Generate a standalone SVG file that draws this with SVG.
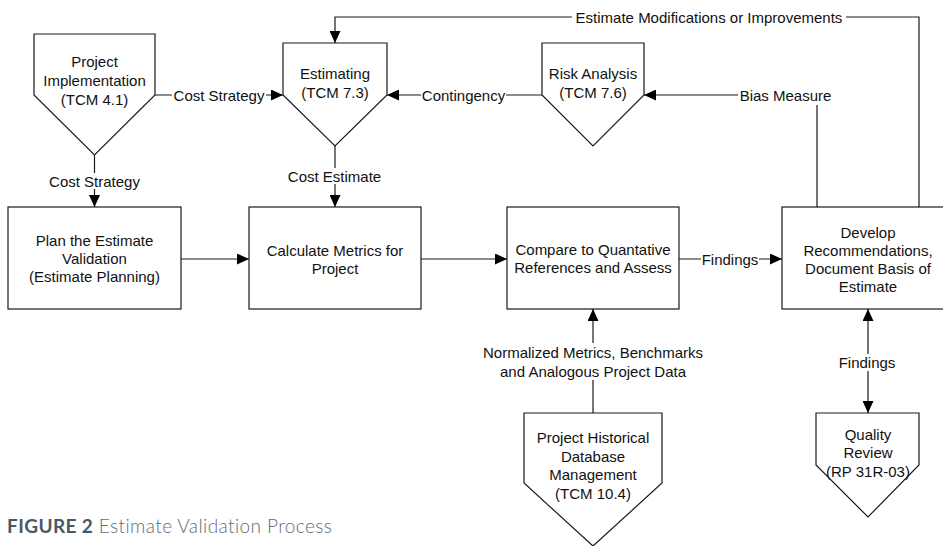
<svg xmlns="http://www.w3.org/2000/svg" width="943" height="546" viewBox="0 0 943 546">
<style>
.n{fill:#fff;stroke:#1a1a1a;stroke-width:1.2}
.t{font-family:"Liberation Sans",Arial,sans-serif;font-size:15px;fill:#111;text-anchor:middle}
.c{fill:none;stroke:#1a1a1a;stroke-width:1.2}
.bg{fill:#fff;stroke:none}
.cap{font-family:Lato,"Open Sans",sans-serif;font-size:19px;letter-spacing:0.4px}
</style>
<defs>
<marker id="arr" viewBox="0 0 12 11" refX="12" refY="5.5" markerWidth="12" markerHeight="11" markerUnits="userSpaceOnUse" orient="auto-start-reverse">
<path d="M0,0 L12,5.5 L0,11 z" fill="#000"/>
</marker>
</defs>
<rect width="943" height="546" fill="#fff"/>

<g id="connectors">
<path class="c" d="M94.5,155 V207" marker-end="url(#arr)"/>
<path class="c" d="M155,95 H283" marker-end="url(#arr)"/>
<path class="c" d="M919,207 V17 H335 V43" marker-end="url(#arr)"/>
<path class="c" d="M542,95 H387" marker-end="url(#arr)"/>
<path class="c" d="M817,207 V95 H644" marker-end="url(#arr)"/>
<path class="c" d="M335,146 V207" marker-end="url(#arr)"/>
<path class="c" d="M181,259 H249" marker-end="url(#arr)"/>
<path class="c" d="M421,259 H507" marker-end="url(#arr)"/>
<path class="c" d="M679,259 H782" marker-end="url(#arr)"/>
<path class="c" d="M593,413 V309" marker-end="url(#arr)"/>
<path class="c" d="M868,309 V413" marker-start="url(#arr)" marker-end="url(#arr)"/>

<rect class="bg" x="47" y="173" width="95" height="16"/>
<text class="t" x="94.5" y="186.5">Cost Strategy</text>
<rect class="bg" x="172" y="87" width="94" height="16"/>
<text class="t" x="219" y="100.5">Cost Strategy</text>
<rect class="bg" x="572" y="9" width="274" height="16"/>
<text class="t" x="709" y="22.5">Estimate Modifications or Improvements</text>
<rect class="bg" x="421" y="87" width="85" height="16"/>
<text class="t" x="463.5" y="100.5">Contingency</text>
<rect class="bg" x="738" y="87" width="95" height="18"/>
<text class="t" x="785.5" y="100.5">Bias Measure</text>
<rect class="bg" x="286" y="168" width="97" height="16"/>
<text class="t" x="334.5" y="181.5">Cost Estimate</text>
<rect class="bg" x="701" y="251" width="58" height="16"/>
<text class="t" x="730" y="264.5">Findings</text>
<rect class="bg" x="478" y="343" width="230" height="37"/>
<text class="t" x="593" y="357.5">Normalized Metrics, Benchmarks</text>
<text class="t" x="593" y="376.5">and Analogous Project Data</text>
<rect class="bg" x="837" y="354" width="60" height="17"/>
<text class="t" x="867" y="367.5">Findings</text>
</g>

<g id="project-implementation">
<polygon class="n" points="34,34 155,34 155,95 94.5,155 34,95"/>
<text class="t" x="94.5" y="66.5">Project</text>
<text class="t" x="94.5" y="85.5">Implementation</text>
<text class="t" x="94.5" y="104.5">(TCM 4.1)</text>
</g>

<g id="estimating">
<polygon class="n" points="283,43 387,43 387,95 335,146 283,95"/>
<text class="t" x="335" y="78.5">Estimating</text>
<text class="t" x="335" y="97.5">(TCM 7.3)</text>
</g>

<g id="risk-analysis">
<polygon class="n" points="542,43 644,43 644,95 593,146 542,95"/>
<text class="t" x="593" y="78.5">Risk Analysis</text>
<text class="t" x="593" y="97.5">(TCM 7.6)</text>
</g>

<g id="plan">
<rect class="n" x="8" y="207" width="173" height="102"/>
<text class="t" x="94.5" y="245.5">Plan the Estimate</text>
<text class="t" x="94.5" y="263.5">Validation</text>
<text class="t" x="94.5" y="281.5">(Estimate Planning)</text>
</g>

<g id="calculate">
<rect class="n" x="249" y="207" width="172" height="102"/>
<text class="t" x="335" y="255.5">Calculate Metrics for</text>
<text class="t" x="335" y="273.5">Project</text>
</g>

<g id="compare">
<rect class="n" x="507" y="207" width="172" height="102"/>
<text class="t" x="593" y="254.5">Compare to Quantative</text>
<text class="t" x="593" y="272.5">References and Assess</text>
</g>

<g id="develop">
<rect class="n" x="782" y="207" width="172" height="102"/>
<text class="t" x="868" y="237.5">Develop</text>
<text class="t" x="868" y="255.5">Recommendations,</text>
<text class="t" x="868" y="273.5">Document Basis of</text>
<text class="t" x="868" y="291.5">Estimate</text>
</g>

<g id="historical">
<polygon class="n" points="524,413 662,413 662,483 593,546 524,483"/>
<text class="t" x="593" y="442.5">Project Historical</text>
<text class="t" x="593" y="461.5">Database</text>
<text class="t" x="593" y="479.5">Management</text>
<text class="t" x="593" y="498.5">(TCM 10.4)</text>
</g>

<g id="quality">
<polygon class="n" points="816,413 919,413 919,465 868,517 816,465"/>
<text class="t" x="868" y="439.5">Quality</text>
<text class="t" x="868" y="457.5">Review</text>
<text class="t" x="868" y="476.5">(RP 31R-03)</text>
</g>

<g id="caption">
<text class="cap" x="7" y="533"><tspan font-weight="700" fill="#4a5866">FIGURE 2</tspan><tspan font-weight="300" fill="#5f6b78"> Estimate Validation Process</tspan></text>
</g>
</svg>
